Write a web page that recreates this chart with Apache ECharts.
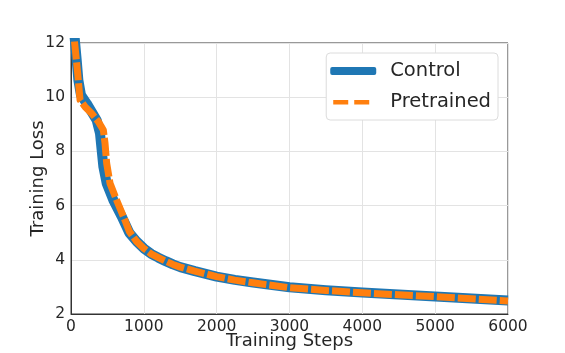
<!DOCTYPE html>
<html>
<head>
<meta charset="utf-8">
<title>Training Loss</title>
<script src="https://cdn.jsdelivr.net/npm/echarts@6/dist/echarts.min.js"></script>
<style>
    html, body { margin: 0; padding: 0; background: #fff; }
    #chart { width: 565px; height: 353px; }
</style>
</head>
<body>
<div id="chart"></div>
<script>
// Control 曲线（从图上读取的采样点）
var controlSteps = [0, 50, 78, 101, 137, 215, 284, 353, 398, 421, 444, 490, 582, 696, 800, 900, 1000,
    1100, 1200, 1300, 1400, 1500, 1700, 2000, 2250, 2500, 3000, 3500, 4000, 4500, 5000, 5500, 6000];
var controlLoss = [13.6, 12.2, 11.37, 10.63, 10.08, 9.77, 9.46, 9.15, 8.67, 8.05, 7.44, 6.82, 6.2, 5.6, 5.0, 4.68, 4.42,
    4.22, 4.08, 3.95, 3.83, 3.73, 3.58, 3.38, 3.26, 3.16, 2.99, 2.88, 2.79, 2.72, 2.65, 2.57, 2.5];
// Pretrained 曲线
var pretrainedSteps = [0, 50, 92, 124, 192, 284, 375, 444, 467, 490, 536, 627, 742, 800, 900, 1000,
    1100, 1200, 1300, 1400, 1500, 1700, 2000, 2250, 2500, 3000, 3500, 4000, 4500, 5000, 5500, 6000];
var pretrainedLoss = [13.6, 12.0, 10.88, 9.9, 9.65, 9.4, 9.1, 8.79, 8.3, 7.56, 6.82, 6.2, 5.45, 5.05, 4.68, 4.42,
    4.22, 4.08, 3.95, 3.83, 3.73, 3.58, 3.38, 3.25, 3.15, 2.97, 2.87, 2.78, 2.71, 2.64, 2.56, 2.48];
// 坐标轴范围
var xRange = [0, 6000];
var yRange = [2, 12];

function pairs(xs, ys) {
    var out = [];
    for (var i = 0; i < xs.length; i++) {
        out.push([xs[i], ys[i]]);
    }
    return out;
}

var textColor = "#262626";
var fontName = "DejaVu Sans";

var myChart = echarts.init(document.getElementById("chart"), null, {renderer: "canvas"});
var option = {
    animation: false,
    backgroundColor: "#fff",
    textStyle: {fontFamily: fontName, color: textColor},
    grid: {
        left: 71, right: 57, top: 43, bottom: 39,
        containLabel: false,
        outerBoundsMode: "none",
        show: true, borderColor: "#333", borderWidth: 1
    },
    legend: {
        orient: "vertical",
        right: 67,
        top: 53,
        padding: [8, 7, 8, 4],
        itemGap: 11,
        itemWidth: 46,
        itemHeight: 8,
        backgroundColor: "#fff",
        borderColor: "#dcdcdc",
        borderWidth: 1,
        borderRadius: 4,
        textStyle: {fontFamily: fontName, fontSize: 19.5, color: textColor, padding: [0, 0, 0, 9]},
        data: [
            {name: "Control", icon: "roundRect", itemStyle: {color: "#1f77b4"}},
            // 虚线图例：两段短线
            {name: "Pretrained", icon: "path://M0,0L0,0M46,8L46,8M3,2h15v4.5h-15zM24,2h15v4.5h-15z", itemStyle: {color: "#ff7f0e"}}
        ]
    },
    xAxis: {
        type: "value",
        min: xRange[0],
        max: xRange[1],
        interval: 1000,
        name: "Training Steps",
        nameLocation: "middle",
        nameGap: 18,
        nameMoveOverlap: false,
        nameTextStyle: {fontFamily: fontName, fontSize: 18, color: textColor},
        axisLine: {show: true, lineStyle: {color: "#333", width: 1}},
        axisTick: {show: false},
        axisLabel: {
            fontFamily: fontName, fontSize: 15.5, color: textColor, margin: 5,
            formatter: function (v) { return String(v); }
        },
        splitLine: {show: true, lineStyle: {color: "#e3e3e3", width: 1}}
    },
    yAxis: {
        type: "value",
        min: yRange[0],
        max: yRange[1],
        interval: 2,
        name: "Training Loss",
        nameLocation: "middle",
        nameGap: 24,
        nameMoveOverlap: false,
        nameTextStyle: {fontFamily: fontName, fontSize: 18, color: textColor},
        axisLine: {show: true, lineStyle: {color: "#333", width: 1}},
        axisTick: {show: false},
        axisLabel: {fontFamily: fontName, fontSize: 15.5, color: textColor, margin: 6},
        splitLine: {show: true, lineStyle: {color: "#e3e3e3", width: 1}}
    },
    series: [
        {
            name: "Control",
            type: "line",
            symbol: "none",
            clip: true,
            data: pairs(controlSteps, controlLoss),
            itemStyle: {color: "#1f77b4"},
            lineStyle: {color: "#1f77b4", width: 10, cap: "butt", join: "round"}
        },
        {
            name: "Pretrained",
            type: "line",
            symbol: "none",
            clip: true,
            data: pairs(pretrainedSteps, pretrainedLoss),
            itemStyle: {color: "#ff7f0e"},
            lineStyle: {color: "#ff7f0e", width: 7, type: [18, 3], cap: "butt", join: "round"}
        }
    ]
};
myChart.setOption(option);
</script>
</body>
</html>
